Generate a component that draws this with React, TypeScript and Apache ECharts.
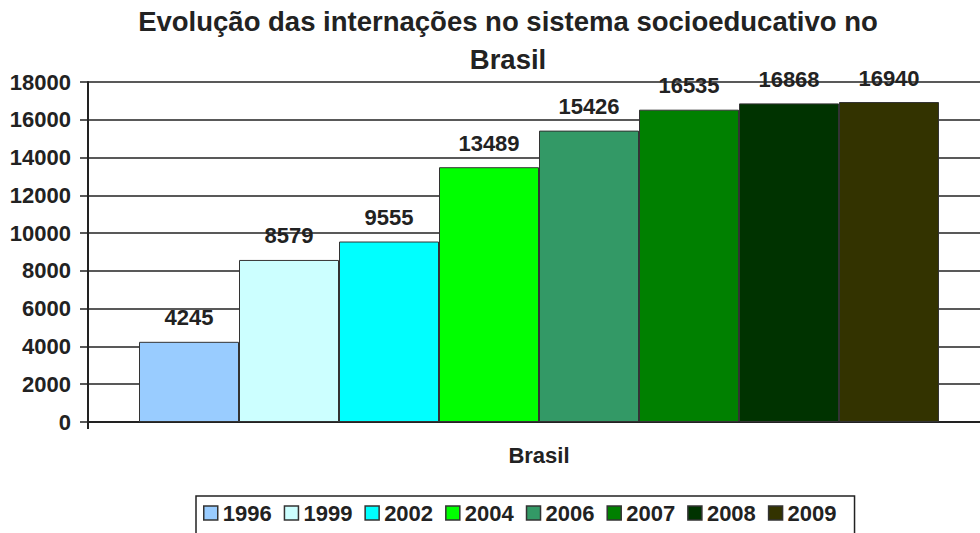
import React, { useEffect, useRef } from "react";
import * as echarts from "echarts";

const categories = ["Brasil"];
const years = ["1996", "1999", "2002", "2004", "2006", "2007", "2008", "2009"];
const values = [4245, 8579, 9555, 13489, 15426, 16535, 16868, 16940];
const colors = ["#99CCFF", "#CCFFFF", "#00FFFF", "#00FF00", "#339966", "#008000", "#003300", "#333300"];
const yTicks = { min: 0, max: 18000, interval: 2000 };

const FONT = "'Liberation Sans', Arial, sans-serif";

export default function App() {
  const ref = useRef<HTMLDivElement>(null);
  useEffect(() => {
    if (!ref.current) return;
    const chart = echarts.init(ref.current, undefined, { renderer: "svg" });
    chart.setOption({
      animation: false,
      backgroundColor: "#ffffff",
      textStyle: { fontFamily: FONT },
      title: {
        text: "Evolução das internações no sistema socioeducativo no\nBrasil",
        left: 503,
        textAlign: "center",
        top: -3,
        textStyle: {
          fontFamily: FONT,
          fontSize: 27.5,
          fontWeight: "bold",
          color: "#222",
          lineHeight: 38,
        },
      },
      legend: {
        data: years,
        left: 196,
        top: 496,
        orient: "horizontal",
        padding: [6, 18, 20, 7],
        borderColor: "#222",
        borderWidth: 1.5,
        itemWidth: 14,
        itemHeight: 14,
        itemGap: 12,
        icon: "rect",
        itemStyle: { borderColor: "#333", borderWidth: 1.5 },
        textStyle: { fontFamily: FONT, fontSize: 22, fontWeight: "bold", color: "#222" },
      },
      grid: { left: 88, right: 0, top: 82, bottom: 111, containLabel: false },
      xAxis: {
        type: "category",
        data: categories,
        axisLine: { show: true, lineStyle: { color: "#222", width: 2 } },
        axisTick: { show: true, length: 7, lineStyle: { color: "#222", width: 2 } },
        axisLabel: {
          fontFamily: FONT,
          fontSize: 22,
          fontWeight: "bold",
          color: "#222",
          margin: 22,
        },
      },
      yAxis: {
        type: "value",
        min: yTicks.min,
        max: yTicks.max,
        interval: yTicks.interval,
        axisLine: { show: true, lineStyle: { color: "#222", width: 2 } },
        axisTick: { show: true, length: 8, lineStyle: { color: "#222", width: 1.5 } },
        splitLine: { show: true, lineStyle: { color: "#222", width: 1.5 } },
        axisLabel: {
          fontFamily: FONT,
          fontSize: 22,
          fontWeight: "bold",
          color: "#222",
          margin: 17,
          formatter: (v: number) => String(v),
        },
      },
      series: years.map((y, i) => ({
        name: y,
        type: "bar",
        data: [values[i]],
        barWidth: 100,
        barGap: "0%",
        itemStyle: { color: colors[i], borderColor: "#333", borderWidth: 1 },
        label: {
          show: true,
          position: "top",
          distance: 13,
          fontFamily: FONT,
          fontSize: 22,
          fontWeight: "bold",
          color: "#222",
        },
      })),
    });
    return () => chart.dispose();
  }, []);
  return (
    <div
      style={{
        position: "absolute",
        left: 0,
        top: 0,
        width: 980,
        height: 533,
        overflow: "hidden",
      }}
    >
      <div ref={ref} style={{ width: 990, height: 533 }} />
    </div>
  );
}
